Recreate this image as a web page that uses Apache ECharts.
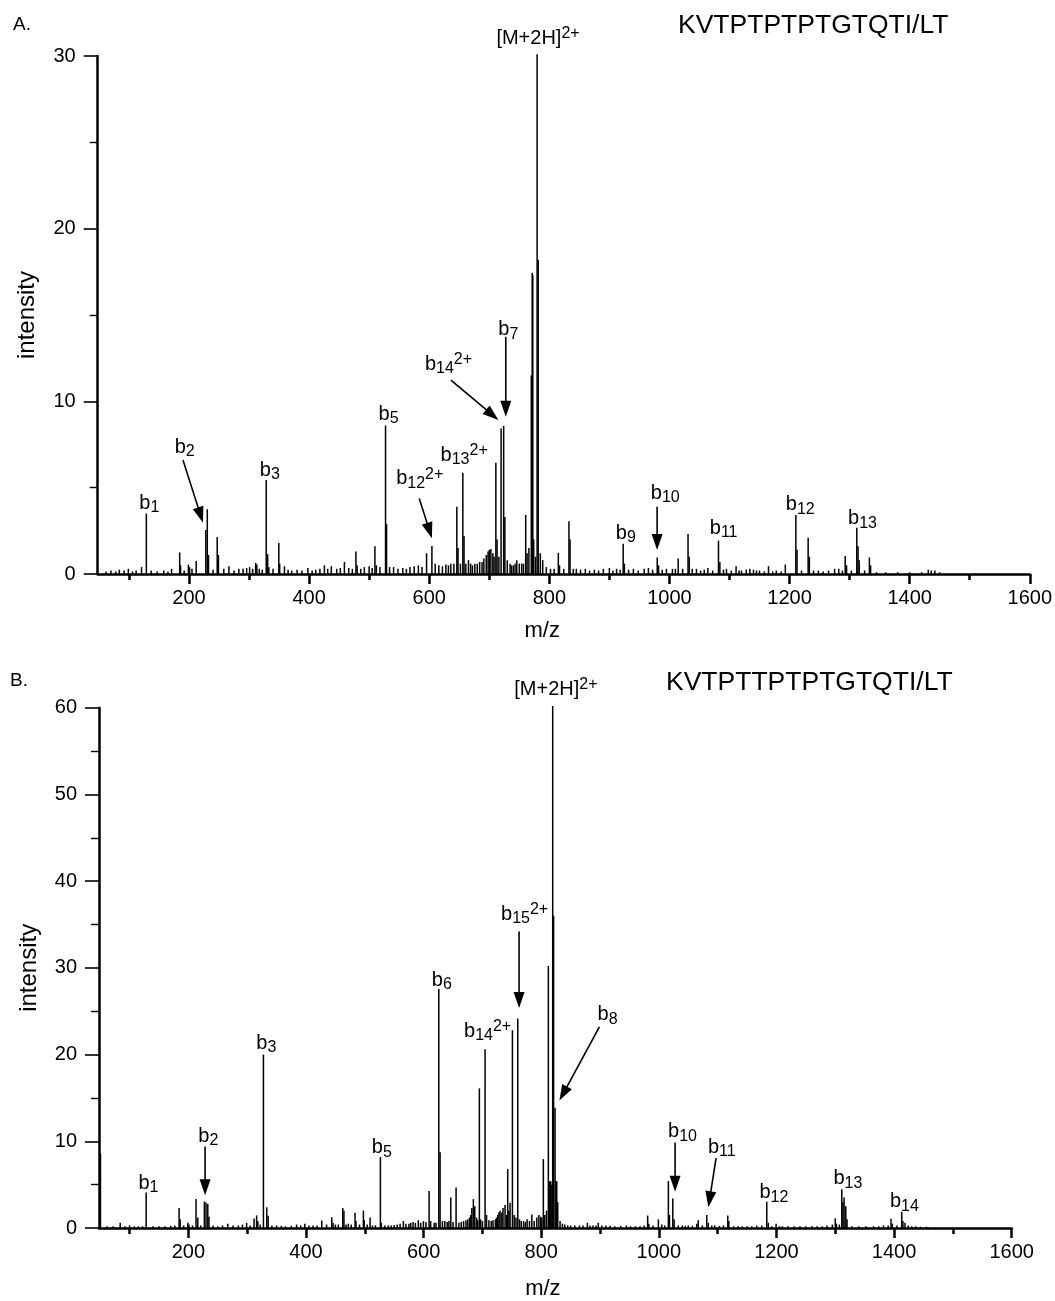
<!DOCTYPE html>
<html>
<head>
<meta charset="utf-8">
<script src="https://cdn.jsdelivr.net/npm/echarts@6/dist/echarts.min.js"></script>
<style>
  html, body { margin: 0; padding: 0; background: #fff; }
  #chart { width: 1055px; height: 1301px; }
</style>
</head>
<body>
<div id="chart"></div>
<script>
// ---- spectrum A: KVTPTPTPTGTQTI/LT  (m/z, intensity) ----
const peaksA = [
  [62, 0.15], [70, 0.2], [78, 0.15], [84, 0.25], [92, 0.2], [99, 0.3], [106, 0.15], [112, 0.2],
  [121, 0.4], [129, 3.5], [137, 0.2], [147, 0.15], [158, 0.2], [165, 0.15], [171, 0.3],
  [184.5, 1.25], [186, 0.5], [192, 0.2], [199, 0.55], [201, 0.4], [205, 0.3], [212, 0.75], [228, 2.55],
  [230.5, 3.75], [232.5, 1.1], [240, 0.25], [247, 2.15], [249, 1.1], [258, 0.3], [266.5, 0.45],
  [275, 0.2], [283, 0.3], [290, 0.3], [296, 0.35], [301, 0.4], [306, 0.3], [311, 0.65], [313, 0.55],
  [317, 0.3], [322, 0.25], [328.6, 5.45], [331, 1.15], [333, 0.4], [340, 0.3], [349.6, 1.8], [351, 0.6],
  [359, 0.45], [365, 0.25], [371, 0.2], [380, 0.25], [388, 0.2], [398, 0.35], [405, 0.2], [411, 0.25],
  [418, 0.3], [425.5, 0.5], [431, 0.3], [437, 0.45], [446, 0.3], [452, 0.35], [458.8, 0.7],
  [466, 0.35], [472, 0.3], [478, 1.3], [480, 0.5], [486, 0.3], [492, 0.4], [500, 0.45], [505, 0.35],
  [509.6, 1.6], [512, 0.5], [518, 0.4], [527.3, 8.6], [529, 2.9], [534, 0.4], [540.7, 0.4], [548, 0.3],
  [556, 0.35], [562, 0.3], [568, 0.4], [575, 0.45], [582, 0.5], [588, 0.4], [595.6, 1.2],
  [604.5, 1.62], [610, 0.6], [616, 0.5], [622, 0.45], [627.8, 0.55], [632, 0.5], [636, 0.6],
  [641, 0.6], [646, 3.9], [648, 1.5], [652, 0.6], [656, 5.87], [658, 2.2], [661, 0.6], [665.4, 0.8],
  [669, 0.6], [672, 0.5], [676, 0.6], [680, 0.6], [684, 0.7], [688, 0.7], [691, 0.9], [695, 1.1],
  [698, 1.3], [700, 1.4], [702.7, 1.45], [706, 1.2], [708, 1.0], [711, 6.45], [713, 2.0], [716, 1.0],
  [719.7, 8.43], [724, 8.57], [726, 3.3], [730, 0.8], [734.6, 0.6], [737, 0.5], [740, 0.5],
  [743, 0.6], [745.8, 0.8], [750, 0.6], [754, 0.6], [757, 0.6], [760.7, 3.42], [763, 1.2],
  [766, 1.5], [770, 11.5], [771.5, 17.45], [772.5, 17.3], [774, 2.0], [777, 1.0], [779.7, 30.1],
  [781.5, 18.2], [785, 1.2], [789, 0.8], [795, 0.4], [802, 0.3], [808, 0.3], [815, 1.23], [817, 0.5],
  [824, 0.3], [832.7, 3.05], [834.5, 2.0], [840, 0.3], [845, 0.3], [852, 0.25], [860, 0.3],
  [867, 0.2], [875, 0.25], [882, 0.2], [890, 0.3], [900, 0.35], [906, 0.2], [912, 0.3], [918, 0.25],
  [923, 1.75], [925, 0.6], [932, 0.25], [940, 0.3], [948, 0.2], [958, 0.3], [965, 0.35], [972, 0.25],
  [979.7, 0.95], [982, 0.5], [988, 0.25], [995, 0.3], [1005, 0.3], [1010, 0.3], [1014.6, 0.9],
  [1022, 0.3], [1031, 2.32], [1033, 1.0], [1038, 0.3], [1045, 0.3], [1052, 0.2], [1058, 0.25],
  [1064, 0.35], [1072, 0.2], [1081.7, 1.93], [1084, 0.7], [1090, 0.25], [1095, 0.3], [1103, 0.2],
  [1111, 0.45], [1116, 0.2], [1120, 0.2], [1128, 0.25], [1134, 0.3], [1140, 0.25], [1145, 0.2],
  [1150, 0.2], [1158, 0.15], [1165, 0.45], [1172, 0.15], [1178, 0.2], [1186, 0.15], [1193, 0.55],
  [1210.5, 3.42], [1212.5, 1.4], [1220, 0.2], [1231, 2.1], [1233, 1.0], [1240, 0.2], [1248, 0.2],
  [1256, 0.15], [1265, 0.2], [1275, 0.3], [1282, 0.3], [1288, 0.2], [1292.7, 1.04], [1295, 0.5],
  [1303, 0.2], [1312, 2.68], [1314, 1.6], [1316, 0.8], [1325, 0.2], [1333, 0.95], [1335, 0.5],
  [1345, 0.1], [1360, 0.1], [1380, 0.1], [1400, 0.1], [1420, 0.1], [1431, 0.25], [1436, 0.2],
  [1442, 0.2], [1450, 0.1]
];

// ---- spectrum B: KVTPTTPTPTGTQTI/LT ----
const peaksB = [
  [50.5, 8.6], [62, 0.2], [72, 0.2], [84, 0.6], [92, 0.2], [100, 0.3], [108, 0.2], [115, 0.2],
  [122, 0.2], [128.2, 4.1], [140, 0.2], [150, 0.2], [160, 0.2], [170, 0.25], [177, 0.3],
  [184.2, 2.3], [186, 1.0], [192, 0.3], [199, 0.6], [201, 0.4], [207, 0.3], [213, 3.33], [216, 1.2],
  [221, 0.3], [227.2, 3.05], [230, 2.95], [233, 2.76], [235, 1.3], [242, 0.3], [250, 0.2],
  [258, 0.3], [267, 0.5], [276, 0.3], [285, 0.3], [292, 0.4], [299, 0.6], [305, 0.3], [311.7, 1.1],
  [316, 1.45], [318, 0.8], [322, 0.4], [327.6, 20.0], [333.3, 2.4], [335.6, 1.4], [342, 0.3],
  [350, 0.3], [358, 0.25], [365, 0.2], [375, 0.25], [384, 0.4], [391, 0.3], [398, 0.5], [405, 0.3],
  [412, 0.3], [419, 0.3], [426.8, 0.87], [435, 0.4], [443.8, 1.25], [446, 0.6], [450, 0.4],
  [455, 0.4], [462.5, 2.3], [464.5, 2.0], [468, 0.4], [472, 0.5], [477, 0.4], [483.4, 1.75],
  [485, 0.8], [491, 0.4], [497.6, 2.0], [499, 0.9], [504, 0.4], [509, 1.2], [513, 0.3], [518, 0.3],
  [526.5, 8.18], [528, 0.6], [534, 0.3], [540, 0.3], [545, 0.3], [550, 0.35], [555, 0.4],
  [560, 0.5], [565.6, 0.8], [570, 0.5], [575, 0.5], [578, 0.6], [582, 0.7], [586, 0.6], [591, 0.9],
  [595, 0.6], [599.6, 0.8], [604, 0.7], [609.3, 4.28], [612, 0.8], [618, 0.6], [621, 0.6],
  [625.8, 27.56], [628, 8.74], [632, 0.8], [636, 0.8], [640, 0.7], [643, 0.8], [646.2, 3.52],
  [650, 0.7], [655.2, 4.66], [660, 0.6], [664, 0.7], [668, 0.8], [672, 0.9], [675, 1.0], [678, 1.2],
  [680, 1.5], [682, 2.3], [684.6, 3.33], [687, 2.5], [690, 1.2], [692, 0.9], [694.8, 16.1],
  [697, 1.0], [700, 0.8], [704.5, 20.6], [707, 1.5], [711, 0.9], [715, 0.8], [718, 0.9], [722, 1.0],
  [724, 1.2], [726, 1.5], [728, 1.8], [730, 2.0], [733, 1.8], [735, 2.3], [738.5, 2.65], [741, 1.5],
  [743, 6.8], [745, 2.0], [747, 2.9], [751, 22.8], [754, 1.5], [757, 1.2], [760.1, 24.15],
  [763, 1.0], [766, 0.8], [770, 0.8], [773, 0.7], [776, 1.0], [780, 0.8], [784, 1.55], [788, 0.8],
  [792.5, 1.2], [796, 1.5], [799, 1.3], [801, 1.2], [803.6, 7.95], [806, 1.5], [809, 2.0],
  [812.1, 30.2], [814, 5.4], [816.2, 5.4], [818, 5.0], [819.5, 60.2], [821, 36.0], [823.5, 13.86],
  [825, 5.4], [826.4, 5.4], [828, 3.0], [832, 0.8], [836, 0.5], [840, 0.4], [845, 0.3], [850, 0.3],
  [857, 0.3], [865, 0.3], [871, 0.3], [878.5, 0.6], [883, 0.3], [888, 0.3], [893, 0.3], [897, 0.6],
  [903, 0.3], [910, 0.3], [917, 0.25], [925, 0.2], [935, 0.25], [945, 0.3], [952, 0.2], [960, 0.2],
  [968, 0.2], [975, 0.3], [981, 1.44], [983, 0.5], [990, 0.3], [999.2, 1.0], [1005, 0.4],
  [1010, 0.3], [1016.2, 5.42], [1018, 1.5], [1023.7, 3.4], [1026, 1.0], [1033, 0.3], [1040, 0.3],
  [1045, 0.25], [1050, 0.3], [1057, 0.25], [1064.5, 0.5], [1067, 0.9], [1074, 0.3], [1081.5, 1.5],
  [1084, 0.6], [1090, 0.3], [1095, 0.3], [1103, 0.25], [1110, 0.3], [1117.2, 1.44], [1119, 0.8],
  [1127, 0.2], [1135, 0.2], [1142, 0.2], [1150, 0.2], [1158, 0.2], [1166.5, 0.3], [1175, 0.3],
  [1183.5, 3.03], [1186, 0.6], [1192, 0.2], [1199.4, 0.5], [1205, 0.2], [1210, 0.2], [1220, 0.2],
  [1230, 0.2], [1240, 0.2], [1250, 0.2], [1260, 0.2], [1268.9, 0.2], [1278, 0.2], [1286, 0.3],
  [1295, 0.4], [1300, 1.13], [1302, 0.5], [1307, 0.4], [1311.1, 4.47], [1313, 3.0], [1315, 3.52],
  [1317.9, 2.5], [1320, 1.0], [1328, 0.2], [1340, 0.2], [1352, 0.2], [1365, 0.2], [1374, 0.2],
  [1382, 0.3], [1390, 0.3], [1394.8, 1.06], [1397, 0.5], [1405, 0.3], [1413, 1.89], [1415, 0.8],
  [1418.6, 0.6], [1424, 0.3], [1430, 0.2], [1437, 0.2], [1445, 0.15], [1455, 0.15], [1470, 0.1]
];

// axis ticks
const mzMajorTicks = [200, 400, 600, 800, 1000, 1200, 1400, 1600];
const mzMinorTicks = [100, 300, 500, 700, 900, 1100, 1300, 1500];

// ion labels: [rich text, m/z, intensity] (label centre)
const ionLabelsA = [
  ['[M+2H]{sup|2+}', 781.2, 31.04],
  ['b{sub|1}', 133.9, 4.11],
  ['b{sub|2}', 192.9, 7.33],
  ['b{sub|3}', 334.6, 6.02],
  ['b{sub|5}', 532.4, 9.26],
  ['b{sub|12}{sup|2+}', 584.2, 5.51],
  ['b{sub|13}{sup|2+}', 658.2, 6.89],
  ['b{sub|14}{sup|2+}', 632.1, 12.16],
  ['b{sub|7}', 731.8, 14.15],
  ['b{sub|9}', 927.4, 2.36],
  ['b{sub|10}', 993.1, 4.69],
  ['b{sub|11}', 1090.3, 2.65],
  ['b{sub|12}', 1217.8, 4.0],
  ['b{sub|13}', 1321.6, 3.2]
];
const ionLabelsB = [
  ['[M+2H]{sup|2+}', 824.9, 62.1],
  ['b{sub|1}', 132, 5.13],
  ['b{sub|2}', 234, 10.56],
  ['b{sub|3}', 332.6, 21.3],
  ['b{sub|5}', 528.9, 9.26],
  ['b{sub|6}', 630.9, 28.6],
  ['b{sub|14}{sup|2+}', 708.8, 22.7],
  ['b{sub|15}{sup|2+}', 771.7, 36.2],
  ['b{sub|8}', 912.8, 24.6],
  ['b{sub|10}', 1040.3, 11.1],
  ['b{sub|11}', 1107, 9.3],
  ['b{sub|12}', 1195.6, 4.05],
  ['b{sub|13}', 1321.4, 5.68],
  ['b{sub|14}', 1417.5, 3.03]
];

// arrows: [from m/z, from intensity, to m/z, to intensity]
const arrowsA = [
  [190, 6.6, 223.3, 2.97],
  [583.4, 4.38, 604.5, 2.07],
  [636.1, 11.23, 715.2, 8.92],
  [727.5, 13.74, 727.5, 9.11],
  [979.5, 3.9, 979.5, 1.39]
];
const arrowsB = [
  [228.4, 9.39, 228.4, 3.78],
  [762.3, 34.19, 762.3, 25.36],
  [898.9, 23.2, 830.9, 14.69],
  [1027.6, 9.85, 1027.6, 4.17],
  [1097.3, 8.06, 1084.2, 2.39]
];

const FONT = '"Liberation Sans", Arial, Helvetica, sans-serif';
const INK = '#000';

function stickItem(params, api) {
  const mz = api.value(0);
  const top = api.coord([mz, api.value(1)]);
  const base = api.coord([mz, 0]);
  return {
    type: 'line',
    shape: { x1: top[0], y1: base[1], x2: top[0], y2: top[1] },
    style: { stroke: INK, lineWidth: 1.5 }
  };
}

function arrowItem(params, api) {
  const p0 = api.coord([api.value(0), api.value(1)]);
  const p1 = api.coord([api.value(2), api.value(3)]);
  const dx = p1[0] - p0[0], dy = p1[1] - p0[1];
  const len = Math.sqrt(dx * dx + dy * dy) || 1;
  const ux = dx / len, uy = dy / len;
  const headL = 16, headW = 5.5;
  const bx = p1[0] - ux * headL, by = p1[1] - uy * headL;
  return {
    type: 'group',
    children: [
      { type: 'line', shape: { x1: p0[0], y1: p0[1], x2: bx + ux * 2, y2: by + uy * 2 },
        style: { stroke: INK, lineWidth: 1.6 } },
      { type: 'polygon',
        shape: { points: [[p1[0], p1[1]], [bx - uy * headW, by + ux * headW], [bx + uy * headW, by - ux * headW]] },
        style: { fill: INK } }
    ]
  };
}

function labelRenderer(labels) {
  return function (params, api) {
    const p = api.coord([api.value(0), api.value(1)]);
    return {
      type: 'text',
      x: p[0], y: p[1],
      style: {
        text: labels[params.dataIndex][0],
        fill: INK,
        fontFamily: FONT,
        fontSize: 20,
        lineHeight: 25,
        align: 'center',
        verticalAlign: 'middle',
        rich: {
          sub: { fontFamily: FONT, fontSize: 16, fill: INK, verticalAlign: 'bottom' },
          sup: { fontFamily: FONT, fontSize: 16, fill: INK, verticalAlign: 'top' }
        }
      }
    };
  };
}

const plainNumber = (v) => String(v);

function mzAxes(gridIndex, namePad, nameGap) {
  return [
    {
      type: 'value', gridIndex, position: 'bottom', min: 48, max: 1600,
      name: 'm/z', nameLocation: 'middle', nameGap,
      nameTextStyle: { fontFamily: FONT, fontSize: 22, color: INK, padding: [0, namePad, 0, 0] },
      axisLine: { show: true, onZero: false, lineStyle: { color: INK, width: 2.5 } },
      axisTick: { show: true, customValues: mzMajorTicks, length: 10, lineStyle: { color: INK, width: 2.5 } },
      axisLabel: { show: true, customValues: mzMajorTicks, margin: 14, fontFamily: FONT, fontSize: 20,
        color: INK, formatter: plainNumber },
      splitLine: { show: false }
    },
    {
      type: 'value', gridIndex, position: 'bottom', min: 48, max: 1600,
      axisLine: { show: false },
      axisTick: { show: true, customValues: mzMinorTicks, length: 6, lineStyle: { color: INK, width: 2.5 } },
      axisLabel: { show: false, customValues: mzMinorTicks },
      splitLine: { show: false }
    }
  ];
}

function intensityAxis(gridIndex, max) {
  return {
    type: 'value', gridIndex, min: 0, max, interval: 10,
    name: 'intensity', nameLocation: 'middle', nameGap: 58,
    nameTextStyle: { fontFamily: FONT, fontSize: 24, color: INK },
    axisLine: { show: true, lineStyle: { color: INK, width: 2.5 } },
    axisTick: { show: true, length: 14, lineStyle: { color: INK, width: 1.6 } },
    minorTick: { show: true, splitNumber: 2, length: 8, lineStyle: { color: INK, width: 1.4 } },
    axisLabel: { margin: 22, fontFamily: FONT, fontSize: 20, color: INK, formatter: plainNumber },
    splitLine: { show: false },
    minorSplitLine: { show: false }
  };
}

const titleStyle = (size) => ({ fontFamily: FONT, fontSize: size, fontWeight: 'normal', color: INK });

const chart = echarts.init(document.getElementById('chart'), null, { renderer: 'canvas' });
chart.setOption({
  backgroundColor: '#fff',
  animation: false,
  title: [
    { text: 'A.', left: 13, top: 15, padding: 0, textStyle: titleStyle(19) },
    { text: 'KVTPTPTPTGTQTI/LT', left: 678, top: 12, padding: 0, textStyle: titleStyle(26.5) },
    { text: 'B.', left: 10, top: 671, padding: 0, textStyle: titleStyle(19) },
    { text: 'KVTPTTPTPTGTQTI/LT', left: 666, top: 669, padding: 0, textStyle: titleStyle(26.5) }
  ],
  grid: [
    { left: 97.7, right: 23.3, top: 56, bottom: 727 },
    { left: 99, right: 43.3, top: 707.7, bottom: 65 }
  ],
  xAxis: [...mzAxes(0, 43, 46), ...mzAxes(1, 25, 50)],
  yAxis: [intensityAxis(0, 30), intensityAxis(1, 60)],
  series: [
    { type: 'custom', xAxisIndex: 0, yAxisIndex: 0, clip: false, silent: true,
      renderItem: stickItem, data: peaksA },
    { type: 'custom', xAxisIndex: 0, yAxisIndex: 0, clip: false, silent: true,
      renderItem: arrowItem, data: arrowsA },
    { type: 'custom', xAxisIndex: 0, yAxisIndex: 0, clip: false, silent: true,
      renderItem: labelRenderer(ionLabelsA), data: ionLabelsA.map(d => [d[1], d[2]]) },
    { type: 'custom', xAxisIndex: 2, yAxisIndex: 1, clip: false, silent: true,
      renderItem: stickItem, data: peaksB },
    { type: 'custom', xAxisIndex: 2, yAxisIndex: 1, clip: false, silent: true,
      renderItem: arrowItem, data: arrowsB },
    { type: 'custom', xAxisIndex: 2, yAxisIndex: 1, clip: false, silent: true,
      renderItem: labelRenderer(ionLabelsB), data: ionLabelsB.map(d => [d[1], d[2]]) }
  ]
});
</script>
</body>
</html>
